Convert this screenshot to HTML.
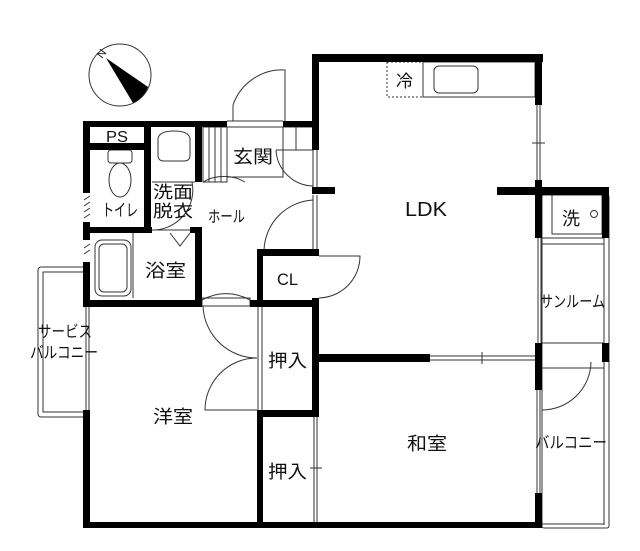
<!DOCTYPE html>
<html><head><meta charset="utf-8"><style>
html,body{margin:0;padding:0;background:#fff;}
svg{display:block;}
text{font-family:"Liberation Sans","Noto Sans CJK JP",sans-serif;fill:#111;}
</style></head><body>
<svg width="640" height="551" viewBox="0 0 640 551" xmlns="http://www.w3.org/2000/svg">
<rect width="640" height="551" fill="#fff"/>
<!-- compass -->
<circle cx="120" cy="75" r="31" fill="#fff" stroke="#333" stroke-width="1"/>
<path d="M106,58 L148,87 A31,31 0 0 1 133,103 Z" fill="#000"/>
<text x="96" y="57" font-size="11" transform="rotate(-55 101 52)">N</text>

<g fill="none" stroke="#333" stroke-width="1">
<!-- service balcony -->
<rect x="38" y="267" width="48" height="150" rx="3"/>
<rect x="43" y="272" width="43" height="140"/>
<line x1="86" y1="307" x2="86" y2="410"/><line x1="89" y1="307" x2="89" y2="410"/>
<!-- sunroom / balcony -->
<rect x="542" y="195" width="67" height="333" rx="2"/>
<line x1="604" y1="238" x2="604" y2="525"/>
<line x1="542" y1="238" x2="604" y2="238"/>
<line x1="542" y1="244" x2="604" y2="244"/>
<line x1="538" y1="238" x2="538" y2="343"/><line x1="541" y1="238" x2="541" y2="343"/>
<line x1="542" y1="343" x2="604" y2="343"/>
<line x1="542" y1="368" x2="604" y2="368"/>
<line x1="604" y1="524" x2="542" y2="524"/>
<path d="M591,362 A49,49 0 0 1 542,410"/>
<rect x="552" y="195" width="50" height="39"/>
<circle cx="594" cy="214" r="3.5"/>
<!-- LDK right window -->
<line x1="537" y1="105" x2="537" y2="180"/><line x1="540" y1="105" x2="540" y2="180"/>
<line x1="532" y1="143" x2="545" y2="143"/>
<!-- kitchen -->
<rect x="423" y="62" width="112" height="35"/>
<rect x="434" y="66" width="44" height="27" rx="5"/>
<rect x="387" y="62" width="36" height="35" stroke-dasharray="2,2"/>
<!-- LDK bottom window -->
<line x1="430" y1="356" x2="542" y2="356"/><line x1="430" y1="360" x2="542" y2="360"/>
<line x1="482" y1="352" x2="482" y2="364"/>
<!-- washitsu right window -->
<line x1="537" y1="390" x2="537" y2="493"/><line x1="540" y1="390" x2="540" y2="493"/>
<!-- oshiire sliding -->
<line x1="314" y1="417" x2="314" y2="528"/><line x1="317" y1="417" x2="317" y2="528"/>
<line x1="310" y1="468" x2="322" y2="468"/>
<line x1="258" y1="306" x2="258" y2="410"/><line x1="262" y1="306" x2="262" y2="410"/>
<!-- yoshitsu doors -->
<path d="M203,306 A54,54 0 0 0 257,358"/>
<path d="M257,358 A52,52 0 0 0 205,410 L257,410"/>
<rect x="202" y="298" width="48" height="8"/>
<!-- hall doors -->
<path d="M202,300 A48,48 0 0 1 250,300"/>
<line x1="313" y1="195" x2="313" y2="249"/><line x1="317" y1="195" x2="317" y2="249"/>
<line x1="313" y1="150" x2="313" y2="187"/><line x1="317" y1="150" x2="317" y2="187"/>
<path d="M264,250 A52,52 0 0 1 313,200"/>
<path d="M319,256 L360,256 A42,42 0 0 1 319,298"/>
<path d="M203,182 A42,42 0 0 1 245,182"/>
<path d="M152,230 A40,40 0 0 0 192,182"/>
<line x1="152" y1="182" x2="195" y2="182"/>
<!-- entrance -->
<path d="M233,121 L233,105 A52,52 0 0 1 285,70 L285,121"/>
<line x1="227" y1="121" x2="283" y2="121"/>
<line x1="227" y1="127" x2="313" y2="127"/>
<rect x="227" y="127" width="56" height="50"/>
<path d="M276,150 L313,150 M276,150 A38,38 0 0 0 313,186"/>
<line x1="283" y1="127" x2="283" y2="177"/>
<line x1="296" y1="127" x2="296" y2="150"/>
<!-- stairs -->
<rect x="203" y="127" width="24" height="55"/>
<line x1="209" y1="127" x2="209" y2="182"/><line x1="215" y1="127" x2="215" y2="182"/><line x1="221" y1="127" x2="221" y2="182"/>
<!-- washbasin -->
<path d="M158,138 Q160,131 174,131 Q188,131 190,138 L190,155 Q190,161 184,161 L164,161 Q158,161 158,155 Z"/>
<!-- toilet -->
<rect x="108" y="150" width="24" height="13" rx="3"/>
<ellipse cx="120" cy="180" rx="11" ry="17"/>
<!-- bath -->
<rect x="95" y="240" width="36" height="56" rx="7"/>
<rect x="99" y="244" width="28" height="48" rx="5"/>
<line x1="133" y1="233" x2="133" y2="298"/>
<path d="M170,233 L180,246 L190,233"/>
<line x1="152" y1="230" x2="190" y2="230"/>
<!-- hatches -->
<line x1="84" y1="200" x2="90" y2="196"/><line x1="84" y1="206" x2="90" y2="202"/><line x1="84" y1="212" x2="90" y2="208"/><line x1="84" y1="218" x2="90" y2="214"/>
<line x1="84" y1="248" x2="90" y2="244"/><line x1="84" y1="254" x2="90" y2="250"/>
</g>

<g fill="#000">
<rect x="83" y="121" width="144" height="6"/>
<rect x="83" y="121" width="7" height="72"/>
<rect x="83" y="222" width="7" height="18"/>
<rect x="83" y="262" width="7" height="45"/>
<rect x="83" y="143" width="64" height="7"/>
<rect x="144" y="121" width="7" height="109"/>
<rect x="195" y="121" width="7" height="61"/>
<rect x="83" y="227" width="69" height="6"/>
<rect x="190" y="227" width="12" height="6"/>
<rect x="195" y="227" width="7" height="80"/>
<rect x="83" y="300" width="119" height="7"/>
<rect x="250" y="300" width="68" height="7"/>
<rect x="283" y="121" width="36" height="6"/>
<rect x="257" y="249" width="62" height="7"/>
<rect x="257" y="249" width="6" height="58"/>
<rect x="312" y="54" width="231" height="8"/>
<rect x="312" y="54" width="7" height="96"/>
<rect x="312" y="187" width="23" height="7"/>
<rect x="497" y="187" width="112" height="8"/>
<rect x="535" y="54" width="7" height="51"/>
<rect x="535" y="180" width="7" height="58"/>
<rect x="312" y="298" width="7" height="119"/>
<rect x="312" y="354" width="118" height="8"/>
<rect x="535" y="343" width="7" height="47"/>
<rect x="535" y="493" width="7" height="35"/>
<rect x="602" y="187" width="7" height="51"/>
<rect x="602" y="343" width="7" height="19"/>
<rect x="257" y="410" width="62" height="7"/>
<rect x="257" y="410" width="6" height="118"/>
<rect x="83" y="410" width="7" height="118"/>
<rect x="83" y="522" width="459" height="6"/>
</g>

<g font-size="18">
<text x="106" y="142" font-size="16" textLength="22" lengthAdjust="spacingAndGlyphs">PS</text>
<text x="102" y="216" font-size="17" textLength="36" lengthAdjust="spacingAndGlyphs">トイレ</text>
<text x="153" y="198" font-size="17" textLength="40" lengthAdjust="spacingAndGlyphs">洗面</text>
<text x="153" y="217" font-size="17" textLength="40" lengthAdjust="spacingAndGlyphs">脱衣</text>
<text x="233" y="163" textLength="40" lengthAdjust="spacingAndGlyphs">玄関</text>
<text x="208" y="222" font-size="16" textLength="37" lengthAdjust="spacingAndGlyphs">ホール</text>
<text x="145" y="277" textLength="41" lengthAdjust="spacingAndGlyphs">浴室</text>
<text x="277" y="285" font-size="17" textLength="21" lengthAdjust="spacingAndGlyphs">CL</text>
<text x="405" y="216" font-size="20" textLength="42" lengthAdjust="spacingAndGlyphs">LDK</text>
<text x="396" y="87" font-size="17">冷</text>
<text x="562" y="225">洗</text>
<text x="540" y="307" font-size="16" textLength="65" lengthAdjust="spacingAndGlyphs">サンルーム</text>
<text x="38" y="337" font-size="16" textLength="54" lengthAdjust="spacingAndGlyphs">サービス</text>
<text x="30" y="358" font-size="16" textLength="68" lengthAdjust="spacingAndGlyphs">バルコニー</text>
<text x="268" y="367" textLength="39" lengthAdjust="spacingAndGlyphs">押入</text>
<text x="268" y="478" textLength="39" lengthAdjust="spacingAndGlyphs">押入</text>
<text x="153" y="423" textLength="40" lengthAdjust="spacingAndGlyphs">洋室</text>
<text x="407" y="450" textLength="40" lengthAdjust="spacingAndGlyphs">和室</text>
<text x="535" y="448" font-size="16" textLength="72" lengthAdjust="spacingAndGlyphs">バルコニー</text>
</g>
</svg>
</body></html>
